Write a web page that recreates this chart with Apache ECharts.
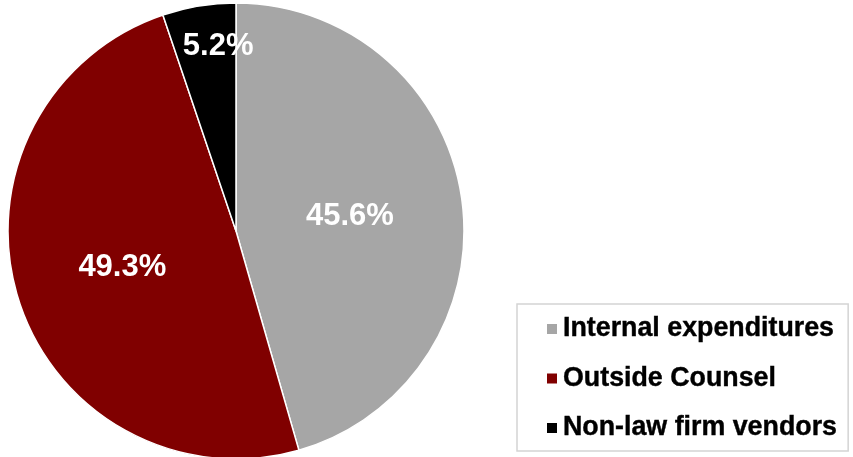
<!DOCTYPE html>
<html>
<head>
<meta charset="utf-8">
<style>
  html, body { margin: 0; padding: 0; background: #ffffff; }
  #chart { width: 853px; height: 457px; }
</style>
<script src="https://cdn.jsdelivr.net/npm/echarts@6/dist/echarts.min.js"></script>
</head>
<body>
<div id="chart"></div>
<script>
// Spend breakdown, percent of total
const categories = ['Internal expenditures', 'Outside Counsel', 'Non-law firm vendors'];
const shares = [45.6, 49.3, 5.2];
const colors = ['#a6a6a6', '#800000', '#000000'];

const FONT = '"Liberation Sans", Arial, sans-serif';
const pieCenter = [236, 231];
const pieRadius = 228;

const data = categories.map((name, i) => ({
  name,
  value: shares[i],
  itemStyle: { color: colors[i] }
}));

const chart = echarts.init(document.getElementById('chart'), null, { renderer: 'canvas' });

const labelText = {
  show: true,
  position: 'inside',
  color: '#ffffff',
  fontFamily: FONT,
  fontWeight: 'bold',
  fontSize: 31,
  formatter: p => p.value.toFixed(1) + '%'
};

chart.setOption({
  animation: false,
  backgroundColor: '#ffffff',
  legend: {
    orient: 'vertical',
    left: 517,
    top: 304,
    data: categories,
    icon: 'rect',
    itemWidth: 12,
    itemHeight: 12,
    itemGap: 19.5,
    padding: [10, 11, 8, 28],
    borderColor: '#d4d4d4',
    borderWidth: 1.5,
    borderRadius: 0,
    selectedMode: false,
    textStyle: {
      color: '#000000',
      fontFamily: FONT,
      fontWeight: 'bold',
      fontSize: 26.8,
      lineHeight: 30,
      textBorderColor: '#000000',
      textBorderWidth: 0.4
    }
  },
  series: [
    {
      // main pie: wedges plus labels for the two large slices
      type: 'pie',
      center: pieCenter,
      radius: [0, pieRadius],
      startAngle: 90,
      clockwise: true,
      avoidLabelOverlap: false,
      silent: true,
      itemStyle: { borderColor: '#ffffff', borderWidth: 1.5 },
      label: Object.assign({}, labelText, { offset: [-2, 2] }),
      labelLine: { show: false },
      data: data.map((d, i) => i === 2 ? Object.assign({}, d, { label: { show: false } }) : d)
    },
    {
      // transparent ring that places the small slice's label nearer the rim
      type: 'pie',
      center: pieCenter,
      radius: [pieRadius * 0.64, pieRadius],
      startAngle: 90,
      clockwise: true,
      avoidLabelOverlap: false,
      silent: true,
      legendHoverLink: false,
      itemStyle: { color: 'rgba(0,0,0,0)', borderWidth: 0 },
      label: Object.assign({}, labelText, { offset: [13, 3] }),
      labelLine: { show: false },
      data: data.map((d, i) => ({
        name: d.name + ' ',
        value: d.value,
        itemStyle: { color: 'rgba(0,0,0,0)' },
        label: { show: i === 2 }
      }))
    }
  ]
});
</script>
</body>
</html>
